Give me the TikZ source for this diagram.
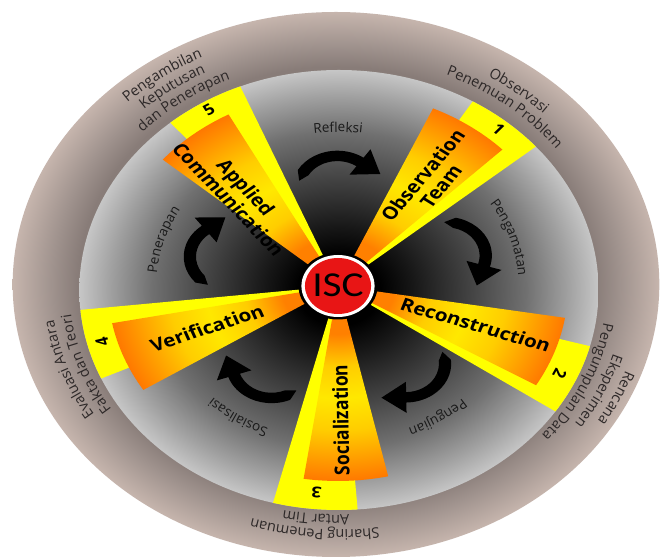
\documentclass[tikz,border=0pt]{standalone}
\usepackage{fontspec}
\setmainfont{Open Sans}
\newfontfamily\iscfont{Carlito}
\usetikzlibrary{decorations.text}

\definecolor{yel}{RGB}{255,255,0}
\definecolor{iscred}{RGB}{232,21,21}
\definecolor{ringin}{RGB}{136,124,120}
\definecolor{ringmid}{RGB}{160,147,142}
\definecolor{ringout}{RGB}{198,181,173}
\definecolor{g0}{RGB}{0,0,0}
\definecolor{g1}{RGB}{22,22,22}
\definecolor{g2}{RGB}{70,70,70}
\definecolor{g3}{RGB}{112,112,112}
\definecolor{g35}{RGB}{160,160,160}
\definecolor{g4}{RGB}{198,198,198}
\definecolor{o1}{RGB}{255,128,0}
\definecolor{o2}{RGB}{255,205,0}
\definecolor{o3}{RGB}{255,232,0}
\definecolor{o4}{RGB}{255,112,0}
\definecolor{ringtext}{RGB}{45,40,40}
\definecolor{innertext}{RGB}{25,25,25}

\pgfdeclareradialshading{ringshade}{\pgfpointorigin}{color(0bp)=(ringin); color(20bp)=(ringin); color(22bp)=(ringmid); color(25bp)=(ringout); color(50bp)=(ringout)}
\pgfdeclareradialshading{diskshade}{\pgfpointorigin}{color(0bp)=(g0); color(4bp)=(g0); color(7bp)=(g1); color(13bp)=(g2); color(18bp)=(g3); color(22bp)=(g35); color(25bp)=(g4); color(50bp)=(g4)}
\pgfdeclareradialshading{orangeshade}{\pgfpointorigin}{color(0bp)=(o1); color(6bp)=(o1); color(10bp)=(o2); color(14bp)=(o3); color(18bp)=(o2); color(25bp)=(o4); color(50bp)=(o4)}

\newcommand\ringfont{\color{ringtext}\fontsize{14.5}{16}\selectfont}
\newcommand\innerfont{\color{innertext}\fontsize{13.5}{15}\selectfont}
% #1 centre angle, #2 radius, #3 font, #4 text (clockwise, tops outward)
\newcommand\arclabel[4]{%
  \path[decorate,decoration={text along path,text align=center,text={|#3|#4}}]
    (#1+45:#2) arc[start angle=#1+45,end angle=#1-45,radius=#2];}

\tikzset{
  wlabel/.style={font=\bfseries\fontsize{17.5}{19}\selectfont,align=center,transform shape,inner sep=0pt},
  numlbl/.style={font=\bfseries\fontsize{15}{15}\selectfont,transform shape,inner sep=0pt},
  cyclearrow/.style={fill=black}
}

\begin{document}
\begin{tikzpicture}[x=1pt,y=1pt]
\useasboundingbox (0,0) rectangle (661,559);
\fill[white] (0,0) rectangle (661,559);
\begin{scope}[shift={(338,273)},xscale=1.18]
  % outer ring and inner disk
  \shade[shading=ringshade] (-1.7,1.5) ellipse[x radius=274,y radius=272.5];
  \shade[shading=diskshade] (0.8,-4) circle[radius=220];
  % curved arrows
  \foreach \k in {0,...,4}{
    \begin{scope}[rotate=-72*\k, shift={(-0.55,96.6)}]
      \fill[cyclearrow] (165:33.5) -- (150:38.7)
        arc[start angle=150,end angle=55,radius=38.7]
        -- (55:49) -- (36.4,15.4) -- (55:18) -- (55:28.3)
        arc[start angle=55,end angle=150,radius=28.3] -- cycle;
    \end{scope}
  }
  % yellow wedges
  \begin{scope}
    \clip (0.8,-4) circle[radius=220];
    \foreach \c in {49,-25,-95,195.5,121.8}
      \fill[yel] (0,0) -- (\c-9.25:240) arc[start angle=\c-9.25,end angle=\c+9.25,radius=240] -- cycle;
  \end{scope}
  % orange wedges
  \foreach \c in {55,-20,-88,201.6,129}{
    \begin{scope}
      \clip (0,0) -- (\c-10.6:195) arc[start angle=\c-10.6,end angle=\c+10.6,radius=195] -- cycle;
      \shade[shading=orangeshade] (0,0) circle[radius=200];
    \end{scope}
  }
  % numbers
  \foreach \c/\n in {49/1,-25/2,-95/3,195.5/4,121.8/5}
    \node[numlbl,rotate=\c-90] (num\n) at (\c:207.5) {\n};
  % wedge labels
  \node[wlabel,rotate=54] (obs) at (53:132) {Observation\\Team};
  \node[wlabel,rotate=-19] (rec) at (-18.4:123) {Reconstruction};
  \node[wlabel,rotate=91] (soc) at (-89:134) {Socialization};
  \node[wlabel,rotate=21] (ver) at (200.7:118.7) {Verification};
  \node[wlabel,rotate=-51] (app) at (132.6:126) {Applied\\Communication};
  % inner labels
  \arclabel{90}{154}{\innerfont}{Refleksi}
  \arclabel{17}{153}{\innerfont}{Pengamatan}
  \arclabel{-55}{154}{\innerfont}{Pengujian}
  \arclabel{-125}{154}{\innerfont}{Sosialisasi}
  \arclabel{164}{154}{\innerfont}{Penerapan}
  % ring labels
  \arclabel{127.5}{256}{\ringfont}{Pengambilan}
  \arclabel{127.5}{241}{\ringfont}{Keputusan}
  \arclabel{127.5}{226}{\ringfont}{dan Penerapan}
  \arclabel{49.5}{245}{\ringfont}{Observasi}
  \arclabel{49.5}{230}{\ringfont}{Penemuan Problem}
  \arclabel{-23.5}{258}{\ringfont}{Rencana}
  \arclabel{-23.5}{243}{\ringfont}{Eksperimen}
  \arclabel{-23.5}{228}{\ringfont}{Pengumpulan Data}
  \arclabel{-95}{244}{\ringfont}{Sharing Penemuan}
  \arclabel{-95}{229}{\ringfont}{Antar Tim}
  \arclabel{198.5}{243}{\ringfont}{Evaluasi Antara}
  \arclabel{198.5}{228}{\ringfont}{Fakta dan Teori}
  % centre
  \fill[black] (0,0) circle[radius=33.5];
  \fill[white] (0,0) circle[radius=31];
  \fill[iscred] (0,0) circle[radius=28];
  \node[transform shape,font=\iscfont\fontsize{35}{35}\selectfont,inner sep=0pt] (isc) at (0,0.5) {ISC};
\end{scope}
\end{tikzpicture}
\end{document}
